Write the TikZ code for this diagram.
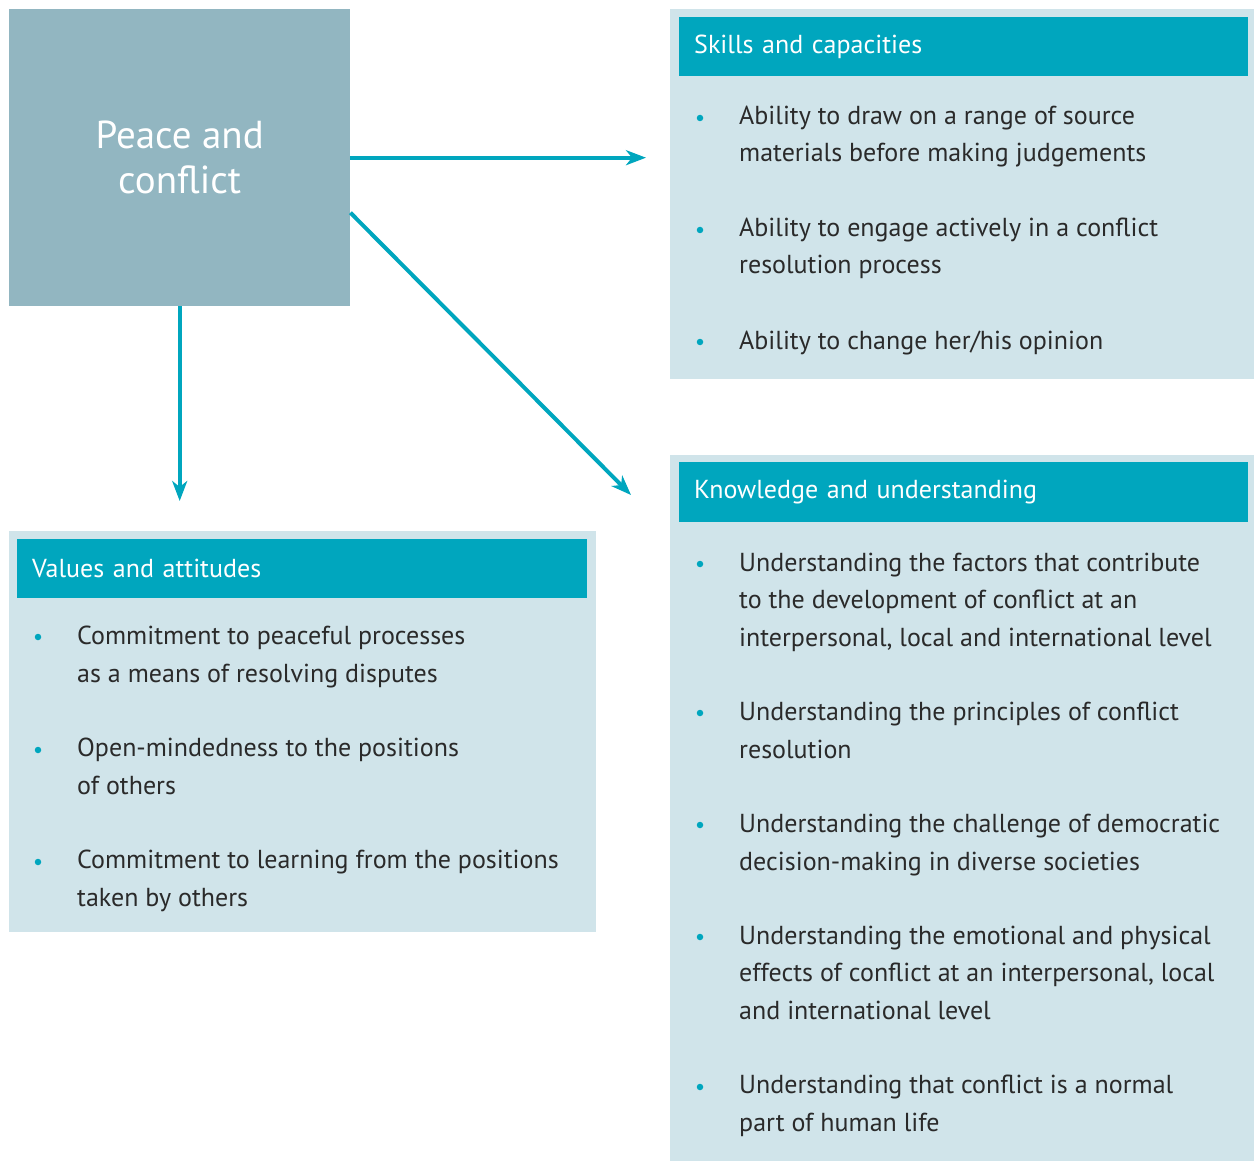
\documentclass[tikz,border=0pt]{standalone}
\usepackage{fontspec}
\setmainfont{PT Sans}
\usetikzlibrary{arrows.meta}
\definecolor{teal1}{HTML}{00A6BE}
\definecolor{panelbg}{HTML}{D0E4EA}
\definecolor{centbg}{HTML}{92B6C1}
\definecolor{txt}{HTML}{2A2A2A}
\tikzset{
  panel/.style={fill=panelbg, draw=none, anchor=north west, inner sep=0pt},
  header/.style={fill=teal1, draw=none, anchor=north west, inner xsep=15pt, inner ysep=0pt,
    text=white, align=left, font=\fontsize{26}{30}\selectfont},
  item/.style={anchor=base west, align=left, inner sep=0pt, text=txt,
    font=\fontsize{26}{37.4}\selectfont},
  bul/.style={circle, fill=teal1, inner sep=0pt, minimum size=6.5pt},
  arr/.style={draw=teal1, line width=4pt, -{Stealth[length=20pt, width=15pt, inset=6pt]}},
}
\begin{document}
\begin{tikzpicture}[x=1pt,y=-1pt]
\useasboundingbox (0,0) rectangle (1254,1161);
% centre box
\node[fill=centbg, anchor=north west, minimum width=341pt, minimum height=297pt, inner sep=0pt,
  text=white, align=center, font=\fontsize{39}{45}\selectfont] (pc) at (9,9) {Peace and\\conflict};

% Skills panel
\node[panel, minimum width=584pt, minimum height=370pt] (skills) at (670,9) {};
\node[header, minimum width=569pt, minimum height=59pt, text width=539pt] (skh) at (679,17) {Skills and capacities};
\node[bul] (sb1) at (700,118) {};
\node[item] (s1) at (739,162) {Ability to draw on a range of source\\materials before making judgements};
\node[bul] (sb2) at (700,230) {};
\node[item] (s2) at (739,274) {Ability to engage actively in a conflict\\resolution process};
\node[bul] (sb3) at (700,342) {};
\node[item] (s3) at (739,349) {Ability to change her/his opinion};

% Knowledge panel
\node[panel, minimum width=584pt, minimum height=706pt] (know) at (670,455) {};
\node[header, minimum width=569pt, minimum height=60pt, text width=539pt] (knh) at (679,462) {Knowledge and understanding};
\node[bul] (kb1) at (700,564) {};
\node[item] (k1) at (739,646) {Understanding the factors that contribute\\to the development of conflict at an\\interpersonal, local and international level};
\node[bul] (kb2) at (700,713) {};
\node[item] (k2) at (739,758) {Understanding the principles of conflict\\resolution};
\node[bul] (kb3) at (700,825) {};
\node[item] (k3) at (739,870) {Understanding the challenge of democratic\\decision-making in diverse societies};
\node[bul] (kb4) at (700,937) {};
\node[item] (k4) at (739,1019) {Understanding the emotional and physical\\effects of conflict at an interpersonal, local\\and international level};
\node[bul] (kb5) at (700,1087) {};
\node[item] (k5) at (739,1131) {Understanding that conflict is a normal\\part of human life};

% Values panel
\node[panel, minimum width=587pt, minimum height=401pt] (values) at (9,531) {};
\node[header, minimum width=570pt, minimum height=59pt, text width=540pt] (vah) at (17,539) {Values and attitudes};
\node[bul] (vb1) at (38,637) {};
\node[item] (v1) at (77,682) {Commitment to peaceful processes\\as a means of resolving disputes};
\node[bul] (vb2) at (38,750) {};
\node[item] (v2) at (77,794) {Open-mindedness to the positions\\of others};
\node[bul] (vb3) at (38,862) {};
\node[item] (v3) at (77,906) {Commitment to learning from the positions\\taken by others};

% connectors
\coordinate (dtip) at (631,495);
\draw[arr, shorten >=24pt] (pc.east) -- (skills.west |- pc.east);
\draw[arr] ([yshift=-55pt]pc.east) -- (dtip);
\draw[arr, shorten >=30pt] (pc.south) -- (pc.south |- values.north);
\end{tikzpicture}
\end{document}
